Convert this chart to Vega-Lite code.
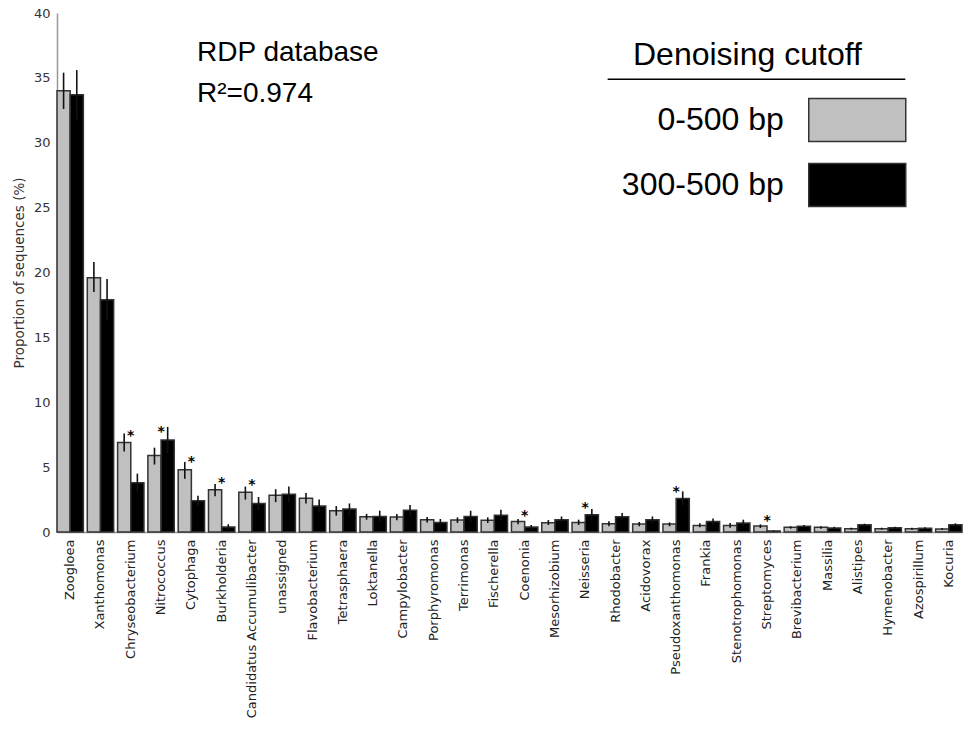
{
  "$schema": "https://vega.github.io/schema/vega-lite/v6.json",
  "width": 905,
  "height": 519,
  "autosize": {"type": "none"},
  "padding": {"left": 57, "top": 13, "right": 3, "bottom": 201},
  "background": "white",
  "config": {"view": {"stroke": null}},
  "title": {
    "text": ["RDP database", "R²=0.974"],
    "anchor": "start",
    "frame": "group",
    "orient": "top",
    "align": "left",
    "baseline": "top",
    "dx": 140,
    "dy": 101,
    "offset": 0,
    "font": "Liberation Sans",
    "fontSize": 28,
    "fontWeight": "normal",
    "color": "#000000",
    "lineHeight": 41
  },
  "datasets": {
    "bars": [
      {"genus": "Zoogloea", "cutoff": "0-500 bp", "value": 34.0, "lo": 32.6, "hi": 35.4},
      {"genus": "Zoogloea", "cutoff": "300-500 bp", "value": 33.7, "lo": 31.8, "hi": 35.6},
      {"genus": "Xanthomonas", "cutoff": "0-500 bp", "value": 19.6, "lo": 18.5, "hi": 20.8},
      {"genus": "Xanthomonas", "cutoff": "300-500 bp", "value": 17.9, "lo": 16.3, "hi": 19.5},
      {"genus": "Chryseobacterium", "cutoff": "0-500 bp", "value": 6.9, "lo": 6.2, "hi": 7.6},
      {"genus": "Chryseobacterium", "cutoff": "300-500 bp", "value": 3.8, "lo": 3.1, "hi": 4.5},
      {"genus": "Nitrococcus", "cutoff": "0-500 bp", "value": 5.9, "lo": 5.2, "hi": 6.5},
      {"genus": "Nitrococcus", "cutoff": "300-500 bp", "value": 7.1, "lo": 6.1, "hi": 8.1},
      {"genus": "Cytophaga", "cutoff": "0-500 bp", "value": 4.8, "lo": 4.1, "hi": 5.4},
      {"genus": "Cytophaga", "cutoff": "300-500 bp", "value": 2.4, "lo": 2.0, "hi": 2.8},
      {"genus": "Burkholderia", "cutoff": "0-500 bp", "value": 3.25, "lo": 2.75, "hi": 3.7},
      {"genus": "Burkholderia", "cutoff": "300-500 bp", "value": 0.39, "lo": 0.2, "hi": 0.6},
      {"genus": "Candidatus Accumulibacter", "cutoff": "0-500 bp", "value": 3.06, "lo": 2.5, "hi": 3.5},
      {"genus": "Candidatus Accumulibacter", "cutoff": "300-500 bp", "value": 2.2, "lo": 1.7, "hi": 2.7},
      {"genus": "unassigned", "cutoff": "0-500 bp", "value": 2.84, "lo": 2.3, "hi": 3.3},
      {"genus": "unassigned", "cutoff": "300-500 bp", "value": 2.9, "lo": 2.3, "hi": 3.5},
      {"genus": "Flavobacterium", "cutoff": "0-500 bp", "value": 2.6, "lo": 2.2, "hi": 3.0},
      {"genus": "Flavobacterium", "cutoff": "300-500 bp", "value": 2.0, "lo": 1.5, "hi": 2.5},
      {"genus": "Tetrasphaera", "cutoff": "0-500 bp", "value": 1.64, "lo": 1.26, "hi": 2.0},
      {"genus": "Tetrasphaera", "cutoff": "300-500 bp", "value": 1.77, "lo": 1.3, "hi": 2.2},
      {"genus": "Loktanella", "cutoff": "0-500 bp", "value": 1.18, "lo": 0.95, "hi": 1.4},
      {"genus": "Loktanella", "cutoff": "300-500 bp", "value": 1.2, "lo": 0.8, "hi": 1.64},
      {"genus": "Campylobacter", "cutoff": "0-500 bp", "value": 1.15, "lo": 0.9, "hi": 1.38},
      {"genus": "Campylobacter", "cutoff": "300-500 bp", "value": 1.67, "lo": 1.25, "hi": 2.08},
      {"genus": "Porphyromonas", "cutoff": "0-500 bp", "value": 0.95, "lo": 0.74, "hi": 1.15},
      {"genus": "Porphyromonas", "cutoff": "300-500 bp", "value": 0.74, "lo": 0.5, "hi": 1.0},
      {"genus": "Terrimonas", "cutoff": "0-500 bp", "value": 0.92, "lo": 0.7, "hi": 1.13},
      {"genus": "Terrimonas", "cutoff": "300-500 bp", "value": 1.2, "lo": 0.8, "hi": 1.64},
      {"genus": "Fischerella", "cutoff": "0-500 bp", "value": 0.9, "lo": 0.7, "hi": 1.13},
      {"genus": "Fischerella", "cutoff": "300-500 bp", "value": 1.3, "lo": 0.9, "hi": 1.72},
      {"genus": "Coenonia", "cutoff": "0-500 bp", "value": 0.8, "lo": 0.6, "hi": 1.0},
      {"genus": "Coenonia", "cutoff": "300-500 bp", "value": 0.38, "lo": 0.22, "hi": 0.54},
      {"genus": "Mesorhizobium", "cutoff": "0-500 bp", "value": 0.72, "lo": 0.54, "hi": 0.92},
      {"genus": "Mesorhizobium", "cutoff": "300-500 bp", "value": 0.95, "lo": 0.7, "hi": 1.2},
      {"genus": "Neisseria", "cutoff": "0-500 bp", "value": 0.74, "lo": 0.54, "hi": 0.95},
      {"genus": "Neisseria", "cutoff": "300-500 bp", "value": 1.33, "lo": 0.9, "hi": 1.77},
      {"genus": "Rhodobacter", "cutoff": "0-500 bp", "value": 0.64, "lo": 0.44, "hi": 0.82},
      {"genus": "Rhodobacter", "cutoff": "300-500 bp", "value": 1.18, "lo": 0.9, "hi": 1.46},
      {"genus": "Acidovorax", "cutoff": "0-500 bp", "value": 0.62, "lo": 0.44, "hi": 0.77},
      {"genus": "Acidovorax", "cutoff": "300-500 bp", "value": 0.95, "lo": 0.7, "hi": 1.2},
      {"genus": "Pseudoxanthomonas", "cutoff": "0-500 bp", "value": 0.62, "lo": 0.44, "hi": 0.74},
      {"genus": "Pseudoxanthomonas", "cutoff": "300-500 bp", "value": 2.59, "lo": 2.05, "hi": 3.13},
      {"genus": "Frankia", "cutoff": "0-500 bp", "value": 0.51, "lo": 0.36, "hi": 0.67},
      {"genus": "Frankia", "cutoff": "300-500 bp", "value": 0.8, "lo": 0.55, "hi": 1.05},
      {"genus": "Stenotrophomonas", "cutoff": "0-500 bp", "value": 0.51, "lo": 0.33, "hi": 0.69},
      {"genus": "Stenotrophomonas", "cutoff": "300-500 bp", "value": 0.69, "lo": 0.43, "hi": 0.95},
      {"genus": "Streptomyces", "cutoff": "0-500 bp", "value": 0.46, "lo": 0.31, "hi": 0.59},
      {"genus": "Streptomyces", "cutoff": "300-500 bp", "value": 0.08, "lo": 0.04, "hi": 0.12},
      {"genus": "Brevibacterium", "cutoff": "0-500 bp", "value": 0.36, "lo": 0.26, "hi": 0.44},
      {"genus": "Brevibacterium", "cutoff": "300-500 bp", "value": 0.44, "lo": 0.34, "hi": 0.54},
      {"genus": "Massilia", "cutoff": "0-500 bp", "value": 0.36, "lo": 0.26, "hi": 0.44},
      {"genus": "Massilia", "cutoff": "300-500 bp", "value": 0.31, "lo": 0.22, "hi": 0.4},
      {"genus": "Alistipes", "cutoff": "0-500 bp", "value": 0.26, "lo": 0.18, "hi": 0.33},
      {"genus": "Alistipes", "cutoff": "300-500 bp", "value": 0.56, "lo": 0.46, "hi": 0.64},
      {"genus": "Hymenobacter", "cutoff": "0-500 bp", "value": 0.26, "lo": 0.18, "hi": 0.33},
      {"genus": "Hymenobacter", "cutoff": "300-500 bp", "value": 0.33, "lo": 0.25, "hi": 0.41},
      {"genus": "Azospirillum", "cutoff": "0-500 bp", "value": 0.26, "lo": 0.18, "hi": 0.33},
      {"genus": "Azospirillum", "cutoff": "300-500 bp", "value": 0.28, "lo": 0.2, "hi": 0.36},
      {"genus": "Kocuria", "cutoff": "0-500 bp", "value": 0.23, "lo": 0.16, "hi": 0.3},
      {"genus": "Kocuria", "cutoff": "300-500 bp", "value": 0.56, "lo": 0.45, "hi": 0.67}
    ],
    "stars": [
      {"genus": "Chryseobacterium", "y": 7.7},
      {"genus": "Nitrococcus", "y": 8.0},
      {"genus": "Cytophaga", "y": 5.7},
      {"genus": "Burkholderia", "y": 4.1},
      {"genus": "Candidatus Accumulibacter", "y": 3.9},
      {"genus": "Coenonia", "y": 1.56},
      {"genus": "Neisseria", "y": 2.15},
      {"genus": "Pseudoxanthomonas", "y": 3.38},
      {"genus": "Streptomyces", "y": 1.15}
    ]
  },
  "layer": [
    {
      "data": {"name": "bars"},
      "mark": {"type": "bar", "stroke": "#333333", "strokeWidth": 1.5},
      "encoding": {
        "x": {
          "field": "genus",
          "type": "nominal",
          "title": null,
          "scale": {
            "domain": ["Zoogloea", "Xanthomonas", "Chryseobacterium", "Nitrococcus", "Cytophaga", "Burkholderia", "Candidatus Accumulibacter", "unassigned", "Flavobacterium", "Tetrasphaera", "Loktanella", "Campylobacter", "Porphyromonas", "Terrimonas", "Fischerella", "Coenonia", "Mesorhizobium", "Neisseria", "Rhodobacter", "Acidovorax", "Pseudoxanthomonas", "Frankia", "Stenotrophomonas", "Streptomyces", "Brevibacterium", "Massilia", "Alistipes", "Hymenobacter", "Azospirillum", "Kocuria"],
            "paddingInner": 0.13,
            "paddingOuter": 0
          },
          "axis": {
            "labelAngle": 270,
            "labelFont": "DejaVu Sans",
            "labelFontSize": 13,
            "labelColor": "#222222",
            "labelPadding": 7,
            "ticks": false,
            "domainColor": "#999999",
            "domainWidth": 1.5,
            "labelLimit": 0
          }
        },
        "xOffset": {
          "field": "cutoff",
          "type": "nominal",
          "scale": {"domain": ["0-500 bp", "300-500 bp"], "paddingInner": 0, "paddingOuter": 0}
        },
        "y": {
          "field": "value",
          "type": "quantitative",
          "title": "Proportion of sequences (%)",
          "scale": {"domain": [0, 40], "nice": false},
          "axis": {
            "values": [0, 5, 10, 15, 20, 25, 30, 35, 40],
            "grid": false,
            "ticks": false,
            "labelFont": "DejaVu Sans",
            "labelFontSize": 13,
            "labelColor": "#333333",
            "labelPadding": 7,
            "domainColor": "#999999",
            "domainWidth": 1.5,
            "titleFont": "DejaVu Sans",
            "titleFontSize": 13.5,
            "titleFontWeight": "normal",
            "titleColor": "#333333",
            "titlePadding": 7
          }
        },
        "color": {
          "field": "cutoff",
          "type": "nominal",
          "scale": {"domain": ["0-500 bp", "300-500 bp"], "range": ["#c0c0c0", "#000000"]},
          "legend": {
            "orient": "none",
            "legendX": 576,
            "legendY": 27,
            "title": "Denoising cutoff",
            "titleFont": "Liberation Sans",
            "titleFontSize": 32,
            "titleFontWeight": "normal",
            "titleColor": "#000000",
            "titleAnchor": "start",
            "titleAlign": "left",
            "titleLimit": 0,
            "titlePadding": 23,
            "labelFont": "Liberation Sans",
            "labelFontSize": 32,
            "labelColor": "#000000",
            "labelAlign": "right",
            "labelOffset": -98.5,
            "labelLimit": 0,
            "symbolType": "M-2,-0.886H2V0.886H-2Z",
            "symbolSize": 2352.25,
            "symbolOffset": 199.25,
            "symbolStrokeColor": "#333333",
            "symbolStrokeWidth": 1.5,
            "symbolOpacity": 1,
            "rowPadding": 15,
            "padding": 0
          }
        }
      }
    },
    {
      "data": {"name": "bars"},
      "mark": {"type": "rule", "color": "#111111", "strokeWidth": 1.6},
      "encoding": {
        "x": {"field": "genus", "type": "nominal"},
        "xOffset": {"field": "cutoff", "type": "nominal"},
        "y": {"field": "lo", "type": "quantitative"},
        "y2": {"field": "hi"}
      }
    },
    {
      "data": {"name": "stars"},
      "mark": {"type": "text", "text": "*", "font": "DejaVu Sans", "fontSize": 14, "fontWeight": "bold", "color": "#000000", "baseline": "alphabetic", "dy": 8},
      "encoding": {
        "x": {"field": "genus", "type": "nominal"},
        "y": {"field": "y", "type": "quantitative"}
      }
    },
    {
      "data": {"values": [{}]},
      "mark": {"type": "rule", "color": "#000000", "strokeWidth": 1.5},
      "encoding": {
        "x": {"datum": "Rhodobacter", "bandPosition": 0.2},
        "x2": {"datum": "Azospirillum", "bandPosition": 0},
        "y": {"datum": 34.9}
      }
    }
  ]
}
